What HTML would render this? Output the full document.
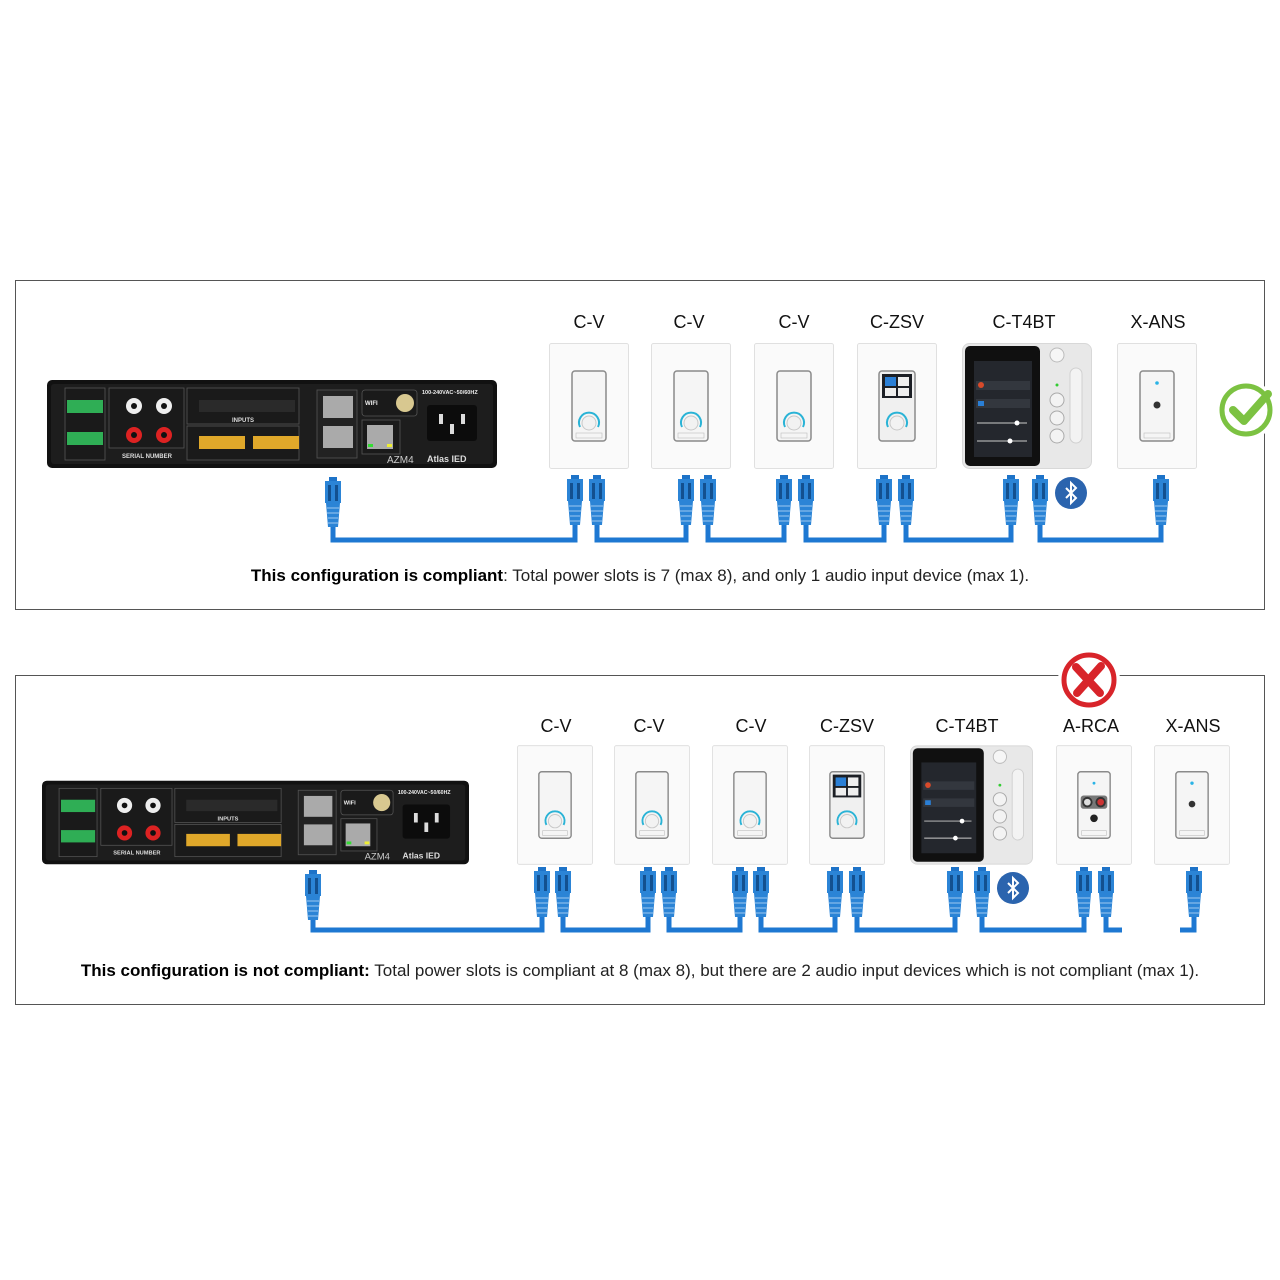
<!DOCTYPE html>
<html><head><meta charset="utf-8"><style>
html,body{margin:0;padding:0;background:#fff}
svg{display:block}
text{font-family:"Liberation Sans",sans-serif}
</style></head><body>
<svg width="1280" height="1280" viewBox="0 0 1280 1280" xmlns="http://www.w3.org/2000/svg">
<defs>
<symbol id="pl" viewBox="-10 0 20 60">
<rect x="-4" y="0" width="8" height="5" fill="#1e73c8"/>
<rect x="-8" y="4" width="16" height="22" fill="#2b84d6"/>
<rect x="-5" y="8" width="3" height="16" fill="#13508f"/>
<rect x="2" y="8" width="3" height="16" fill="#13508f"/>
<polygon points="-7,26 7,26 5,50 -5,50" fill="#2b84d6"/>
<g stroke="#9cc8f0" stroke-width="1"><line x1="-6" y1="31" x2="6" y2="31"/><line x1="-6" y1="36" x2="6" y2="36"/><line x1="-5" y1="41" x2="5" y2="41"/><line x1="-5" y1="46" x2="5" y2="46"/></g>
<rect x="-2.5" y="50" width="5" height="10" fill="#1e78d2"/>
</symbol>
<symbol id="cv" viewBox="0 0 80 126">
<rect x="0.5" y="0.5" width="79" height="125" rx="2" fill="#fafafa" stroke="#e0e0e0"/>
<rect x="23" y="28" width="34" height="70" rx="3" fill="#f5f5f5" stroke="#8a8a8a" stroke-width="1.5"/>
<path d="M31,84 A10,10 0 1 1 49,84" fill="none" stroke="#2ab3d6" stroke-width="2"/>
<circle cx="40" cy="80" r="7" fill="#f2f2f2" stroke="#c8c8c8"/>
<rect x="27" y="90" width="26" height="5" fill="none" stroke="#bbb" stroke-width="0.6"/>
</symbol>
<symbol id="zsv" viewBox="0 0 80 126">
<rect x="0.5" y="0.5" width="79" height="125" rx="2" fill="#fafafa" stroke="#e0e0e0"/>
<rect x="22" y="28" width="36" height="70" rx="3" fill="#f0f0f0" stroke="#8a8a8a" stroke-width="1.5"/>
<rect x="25" y="31" width="30" height="24" fill="#1c1f25"/>
<rect x="28" y="34" width="11" height="9" fill="#2a7fd6"/>
<rect x="41" y="34" width="11" height="9" fill="#eee"/>
<rect x="28" y="45" width="11" height="8" fill="#eee"/><rect x="41" y="45" width="11" height="8" fill="#eee"/>
<path d="M31,84 A10,10 0 1 1 49,84" fill="none" stroke="#2ab3d6" stroke-width="2"/>
<circle cx="40" cy="80" r="7" fill="#f2f2f2" stroke="#c8c8c8"/>
</symbol>
<symbol id="ans" viewBox="0 0 80 126">
<rect x="0.5" y="0.5" width="79" height="125" rx="2" fill="#fafafa" stroke="#e0e0e0"/>
<rect x="23" y="28" width="34" height="70" rx="3" fill="#f5f5f5" stroke="#8a8a8a" stroke-width="1.5"/>
<circle cx="40" cy="40" r="1.8" fill="#2ab3e6"/>
<circle cx="40" cy="62" r="3.5" fill="#333"/>
<rect x="27" y="90" width="26" height="5" fill="none" stroke="#bbb" stroke-width="0.6"/>
</symbol>
<symbol id="rca" viewBox="0 0 80 126">
<rect x="0.5" y="0.5" width="79" height="125" rx="2" fill="#fafafa" stroke="#e0e0e0"/>
<rect x="23" y="28" width="34" height="70" rx="3" fill="#f5f5f5" stroke="#8a8a8a" stroke-width="1.5"/>
<circle cx="40" cy="40" r="1.5" fill="#2ab3e6"/>
<rect x="26" y="53" width="28" height="14" rx="3" fill="#777"/>
<circle cx="33" cy="60" r="4.5" fill="#ddd" stroke="#333" stroke-width="2"/>
<circle cx="47" cy="60" r="4.5" fill="#c33" stroke="#333" stroke-width="2"/>
<circle cx="40" cy="77" r="4" fill="#222"/>
<rect x="27" y="90" width="26" height="5" fill="none" stroke="#bbb" stroke-width="0.6"/>
</symbol>
<symbol id="t4" viewBox="0 0 130 126">
<rect x="0.5" y="0.5" width="129" height="125" rx="7" fill="#e8e8e8" stroke="#d8d8d8"/>
<rect x="3" y="3" width="75" height="120" rx="5" fill="#101010"/>
<rect x="12" y="18" width="58" height="96" fill="#24272d"/>
<rect x="14" y="38" width="54" height="9" fill="#33373e"/><circle cx="19" cy="42" r="3" fill="#d84a2a"/>
<rect x="14" y="56" width="54" height="9" fill="#33373e"/><rect x="16" y="58" width="6" height="5" fill="#2a7fd6"/>
<line x1="15" y1="80" x2="65" y2="80" stroke="#ccc"/><circle cx="55" cy="80" r="2.5" fill="#fff"/>
<line x1="15" y1="98" x2="65" y2="98" stroke="#ccc"/><circle cx="48" cy="98" r="2.5" fill="#fff"/>
<circle cx="95" cy="12" r="7" fill="#f6f6f6" stroke="#bbb"/>
<rect x="108" y="25" width="12" height="75" rx="6" fill="#f3f3f3" stroke="#d0d0d0"/>
<circle cx="95" cy="42" r="1.5" fill="#3c3"/>
<circle cx="95" cy="57" r="7" fill="#f3f3f3" stroke="#aaa"/>
<circle cx="95" cy="75" r="7" fill="#f3f3f3" stroke="#aaa"/>
<circle cx="95" cy="93" r="7" fill="#f3f3f3" stroke="#aaa"/>
</symbol>
<symbol id="amp" viewBox="0 0 450 88">
<rect x="0" y="0" width="450" height="88" rx="5" fill="#111"/>
<rect x="4" y="4" width="442" height="80" rx="3" fill="#1d1d1d"/>
<rect x="18" y="8" width="40" height="72" fill="#1a1a1a" stroke="#555" stroke-width="0.8"/>
<rect x="20" y="20" width="36" height="13" fill="#2fae55"/>
<rect x="20" y="52" width="36" height="13" fill="#2fae55"/>
<rect x="62" y="8" width="75" height="60" fill="#1a1a1a" stroke="#555" stroke-width="0.8"/>
<circle cx="87" cy="26" r="8" fill="#eee"/><circle cx="87" cy="26" r="3" fill="#111"/>
<circle cx="117" cy="26" r="8" fill="#eee"/><circle cx="117" cy="26" r="3" fill="#111"/>
<circle cx="87" cy="55" r="8" fill="#d22"/><circle cx="87" cy="55" r="3" fill="#111"/>
<circle cx="117" cy="55" r="8" fill="#d22"/><circle cx="117" cy="55" r="3" fill="#111"/>
<text x="100" y="78" font-size="6" fill="#ddd" text-anchor="middle" font-weight="bold">SERIAL NUMBER</text>
<rect x="140" y="8" width="112" height="36" fill="#1a1a1a" stroke="#555" stroke-width="0.8"/>
<rect x="152" y="20" width="96" height="12" fill="#2a2a2a"/>
<text x="185" y="42" font-size="6" fill="#ddd" font-weight="bold">INPUTS</text>
<rect x="140" y="46" width="112" height="34" fill="#1a1a1a" stroke="#555" stroke-width="0.8"/>
<rect x="152" y="56" width="46" height="13" fill="#e0a82a"/>
<rect x="206" y="56" width="46" height="13" fill="#e0a82a"/>
<rect x="270" y="10" width="40" height="68" fill="#222" stroke="#555" stroke-width="0.8"/>
<rect x="276" y="16" width="30" height="22" fill="#aaa"/><rect x="276" y="46" width="30" height="22" fill="#aaa"/>
<rect x="315" y="10" width="55" height="26" rx="3" fill="#1a1a1a" stroke="#555" stroke-width="0.8"/>
<text x="318" y="25" font-size="6" fill="#eee" font-weight="bold">WIFI</text>
<circle cx="358" cy="23" r="9" fill="#d8c890"/>
<rect x="315" y="40" width="38" height="34" fill="#1a1a1a" stroke="#555" stroke-width="0.8"/>
<rect x="320" y="45" width="26" height="24" fill="#aaa"/>
<rect x="321" y="64" width="5" height="3" fill="#3d3"/><rect x="340" y="64" width="5" height="3" fill="#ee3"/>
<text x="340" y="83" font-size="10" fill="#ccc">AZM4</text>
<text x="375" y="14" font-size="5.5" fill="#eee" font-weight="bold">100-240VAC~50/60HZ</text>
<rect x="380" y="25" width="50" height="36" rx="3" fill="#0c0c0c"/>
<rect x="392" y="34" width="4" height="10" fill="#ddd"/><rect x="414" y="34" width="4" height="10" fill="#ddd"/><rect x="403" y="44" width="4" height="10" fill="#ddd"/>
<text x="380" y="82" font-size="9" fill="#ddd" font-weight="bold">Atlas IED</text>
</symbol>
<symbol id="bt" viewBox="-16 -16 32 32">
<circle r="16" fill="#2b64ae"/>
<path d="M-5,-5 L5,5 L0,10 L0,-10 L5,-5 L-5,5" fill="none" stroke="#fff" stroke-width="2"/>
</symbol>
</defs>

<!-- Panel 1 -->
<rect x="15.5" y="280.5" width="1249" height="329" fill="none" stroke="#555"/>
<g font-size="18" fill="#111" text-anchor="middle">
<text x="589" y="328">C-V</text><text x="689" y="328">C-V</text><text x="794" y="328">C-V</text>
<text x="897" y="328">C-ZSV</text><text x="1024" y="328">C-T4BT</text><text x="1158" y="328">X-ANS</text>
</g>
<use href="#amp" x="47" y="380" width="450" height="88"/>
<use href="#cv" x="549" y="343" width="80" height="126"/>
<use href="#cv" x="651" y="343" width="80" height="126"/>
<use href="#cv" x="754" y="343" width="80" height="126"/>
<use href="#zsv" x="857" y="343" width="80" height="126"/>
<use href="#t4" x="962" y="343" width="130" height="126"/>
<use href="#ans" x="1117" y="343" width="80" height="126"/>
<g fill="none" stroke="#1e78d2" stroke-width="5">
<path d="M333,535 V540 H575 V535"/><path d="M597,535 V540 H686 V535"/><path d="M708,535 V540 H784 V535"/>
<path d="M806,535 V540 H884 V535"/><path d="M906,535 V540 H1011 V535"/><path d="M1040,535 V540 H1161 V535"/>
</g>
<g>
<use href="#pl" x="323" y="477" width="20" height="60"/>
<use href="#pl" x="565" y="475" width="20" height="60"/><use href="#pl" x="587" y="475" width="20" height="60"/>
<use href="#pl" x="676" y="475" width="20" height="60"/><use href="#pl" x="698" y="475" width="20" height="60"/>
<use href="#pl" x="774" y="475" width="20" height="60"/><use href="#pl" x="796" y="475" width="20" height="60"/>
<use href="#pl" x="874" y="475" width="20" height="60"/><use href="#pl" x="896" y="475" width="20" height="60"/>
<use href="#pl" x="1001" y="475" width="20" height="60"/><use href="#pl" x="1030" y="475" width="20" height="60"/>
<use href="#pl" x="1151" y="475" width="20" height="60"/>
</g>
<use href="#bt" x="1055" y="477" width="32" height="32"/>
<circle cx="1246" cy="410" r="30" fill="#fff"/>
<circle cx="1246" cy="410" r="24" fill="none" stroke="#7cc242" stroke-width="5"/>
<path d="M1233,410 L1244,421 L1268,394" fill="none" stroke="#7cc242" stroke-width="8" stroke-linecap="round" stroke-linejoin="round"/>
<text x="640" y="581" font-size="17" fill="#222" text-anchor="middle"><tspan font-weight="bold" fill="#000">This configuration is compliant</tspan>: Total power slots is 7 (max 8), and only 1 audio input device (max 1).</text>

<!-- Panel 2 -->
<rect x="15.5" y="675.5" width="1249" height="329" fill="none" stroke="#555"/>
<g font-size="18" fill="#111" text-anchor="middle">
<text x="556" y="732">C-V</text><text x="649" y="732">C-V</text><text x="751" y="732">C-V</text>
<text x="847" y="732">C-ZSV</text><text x="967" y="732">C-T4BT</text><text x="1091" y="732">A-RCA</text><text x="1193" y="732">X-ANS</text>
</g>
<use href="#amp" x="42" y="780" width="427" height="85"/>
<use href="#cv" x="517" y="745" width="76" height="120"/>
<use href="#cv" x="614" y="745" width="76" height="120"/>
<use href="#cv" x="712" y="745" width="76" height="120"/>
<use href="#zsv" x="809" y="745" width="76" height="120"/>
<use href="#t4" x="910" y="745" width="123" height="120"/>
<use href="#rca" x="1056" y="745" width="76" height="120"/>
<use href="#ans" x="1154" y="745" width="76" height="120"/>
<g fill="none" stroke="#1e78d2" stroke-width="5">
<path d="M313,925 V930 H542 V925"/><path d="M563,925 V930 H648 V925"/><path d="M669,925 V930 H740 V925"/>
<path d="M761,925 V930 H835 V925"/><path d="M857,925 V930 H955 V925"/><path d="M982,925 V930 H1084 V925"/>
<path d="M1106,925 V930 H1122"/><path d="M1194,925 V930 H1180"/>
</g>
<g>
<use href="#pl" x="303" y="870" width="20" height="60"/>
<use href="#pl" x="532" y="867" width="20" height="60"/><use href="#pl" x="553" y="867" width="20" height="60"/>
<use href="#pl" x="638" y="867" width="20" height="60"/><use href="#pl" x="659" y="867" width="20" height="60"/>
<use href="#pl" x="730" y="867" width="20" height="60"/><use href="#pl" x="751" y="867" width="20" height="60"/>
<use href="#pl" x="825" y="867" width="20" height="60"/><use href="#pl" x="847" y="867" width="20" height="60"/>
<use href="#pl" x="945" y="867" width="20" height="60"/><use href="#pl" x="972" y="867" width="20" height="60"/>
<use href="#pl" x="1074" y="867" width="20" height="60"/><use href="#pl" x="1096" y="867" width="20" height="60"/>
<use href="#pl" x="1184" y="867" width="20" height="60"/>
</g>
<use href="#bt" x="997" y="872" width="32" height="32"/>
<circle cx="1089" cy="680" r="31" fill="#fff"/>
<circle cx="1089" cy="680" r="25" fill="none" stroke="#d8242a" stroke-width="5"/>
<path d="M1076,667 L1100,693 M1101,666 L1077,693" stroke="#d8242a" stroke-width="8" stroke-linecap="round"/>
<text x="640" y="976" font-size="17" fill="#222" text-anchor="middle"><tspan font-weight="bold" fill="#000">This configuration is not compliant:</tspan> Total power slots is compliant at 8 (max 8), but there are 2 audio input devices which is not compliant (max 1).</text>
</svg>
</body></html>
